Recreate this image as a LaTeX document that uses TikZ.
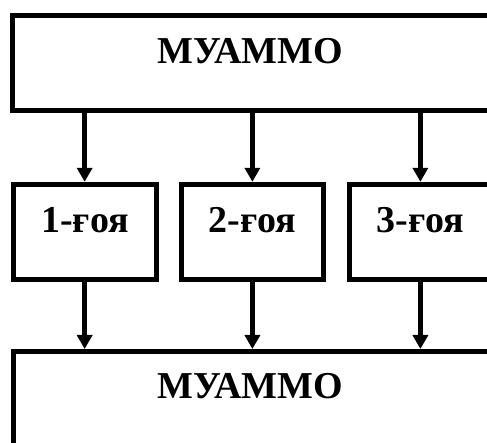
\documentclass[tikz,border=0pt]{standalone}
\usepackage{fontspec}
\setmainfont{Liberation Serif}
\usetikzlibrary{arrows.meta}
\begin{document}
\begin{tikzpicture}[x=1pt,y=-1pt,
  box/.style={draw=black, line width=5pt, inner sep=0pt, minimum width=142.7pt, minimum height=95.2pt},
  bigbox/.style={draw=black, line width=5pt, inner sep=0pt},
  lbl/.style={anchor=base, font=\fontsize{38}{42}\selectfont\bfseries, inner sep=0pt},
  conn/.style={line width=5pt, -{Triangle[width=15pt,length=14pt]}}]
\useasboundingbox (0,0) rectangle (487,443);
\clip (0,0) rectangle (487,443);
\node[bigbox, minimum width=600pt, minimum height=95.2pt] (top) at (312.5,63.4) {};
\node[box] (b1) at (84.65,231.9) {};
\node[box] (b2) at (252.4,231.9) {};
\node[box] (b3) at (420.4,231.9) {};
\node[bigbox, minimum width=600pt, minimum height=200pt] (bot) at (313.3,451.5) {};
\node[lbl] (ttop) at (250.5,63.3) {МУАММО};
\node[lbl] (t1) at (85,232.3) {1-ғоя};
\node[lbl] (t2) at (252.4,232.3) {2-ғоя};
\node[lbl] (t3) at (420.4,232.3) {3-ғоя};
\node[lbl] (tbot) at (250.5,398.3) {МУАММО};
\foreach \b in {b1,b2,b3}{
  \draw[conn] (top.south -| \b.north) -- (\b.north);
  \draw[conn] (\b.south) -- (\b.south |- bot.north);
}
\end{tikzpicture}
\end{document}
